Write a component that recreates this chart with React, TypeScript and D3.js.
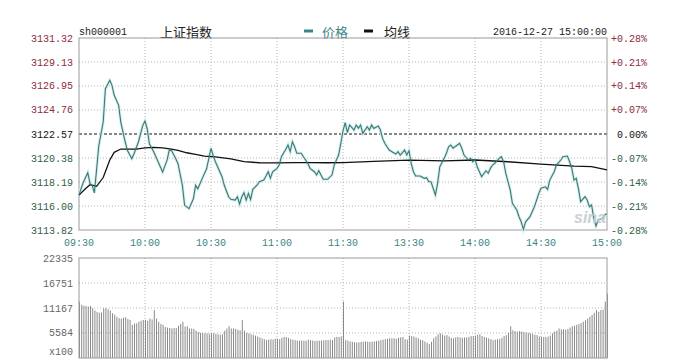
import { scaleLinear, line } from "d3";

const width = 680;
const height = 359;

// minute of session (0 = 09:30, 120 = 11:30/13:00, 240 = 15:00)
const timeLabels = ["09:30", "10:00", "10:30", "11:00", "11:30", "13:30", "14:00", "14:30", "15:00"];
const priceTicks = [3131.32, 3129.13, 3126.95, 3124.76, 3122.57, 3120.38, 3118.19, 3116.0, 3113.82];
const pctTicks = ["+0.28%", "+0.21%", "+0.14%", "+0.07%", "0.00%", "-0.07%", "-0.14%", "-0.21%", "-0.28%"];
const volTicks = [22335, 16751, 11167, 5584];
const prevClose = 3122.57;

const priceMinutes = [
  0, 2, 4, 5, 6, 7, 9, 11, 12, 14, 15, 16, 18, 19, 21, 22, 24, 25, 27, 29, 30, 31, 32, 34, 36, 38, 40, 41, 42,
  44, 45, 47, 48, 50, 52, 53, 54, 56, 58, 60, 61, 62, 63, 65, 66, 68, 69, 71, 72, 73, 74, 75, 76, 77, 78, 79,
  81, 82, 84, 85, 86, 87, 88, 90, 91, 92, 94, 95, 96, 97, 98, 99, 101, 102, 104, 105, 107, 108, 109, 110, 111,
  113, 115, 116, 118, 119, 120, 121, 122, 123, 124, 125, 126, 127, 128, 129, 131, 132, 133, 134, 136, 137, 138,
  139, 141, 143, 144, 145, 146, 148, 149, 150, 151, 152, 153, 155, 157, 158, 159, 160, 162, 163, 164, 166, 167,
  168, 169, 170, 172, 173, 174, 175, 177, 178, 179, 180, 181, 182, 183, 185, 186, 187, 188, 189, 191, 192, 193,
  194, 196, 197, 199, 200, 201, 202, 203, 205, 206, 207, 208, 209, 210, 212, 213, 214, 216, 217, 219, 220, 222,
  223, 224, 225, 226, 227, 228, 230, 231, 232, 233, 234, 235, 236, 238, 239, 240,
];
const priceValues = [
  3117.04, 3118.19, 3119.04, 3118.04, 3117.89, 3117.2, 3121.5, 3123.66, 3126.7, 3127.46, 3127.0, 3126.1, 3125.2,
  3123.66, 3121.84, 3121.08, 3120.32, 3120.77, 3121.84, 3123.36, 3123.75, 3123.05, 3121.68, 3120.93, 3120.02,
  3119.1, 3120.17, 3121.08, 3121.08, 3120.32, 3119.86, 3117.89, 3116.07, 3115.76, 3116.67, 3117.89, 3117.58,
  3118.5, 3119.4, 3121.27, 3120.6, 3120.04, 3119.59, 3118.68, 3117.92, 3116.85, 3116.62, 3116.55, 3116.85,
  3116.19, 3116.85, 3117.22, 3116.55, 3117.16, 3116.6, 3117.53, 3117.92, 3118.22, 3118.37, 3118.74, 3119.13,
  3118.53, 3119.13, 3119.44, 3119.74, 3120.5, 3121.17, 3121.57, 3120.96, 3121.87, 3121.41, 3120.81, 3120.81,
  3120.5, 3119.9, 3119.44, 3119.13, 3118.83, 3119.22, 3118.83, 3118.44, 3118.44, 3118.83, 3119.74, 3120.65,
  3121.72, 3122.85, 3123.6, 3122.7, 3123.39, 3123.18, 3122.93, 3123.39, 3123.1, 3123.39, 3122.63, 3123.23,
  3122.93, 3123.39, 3123.08, 3123.3, 3122.93, 3122.17, 3121.72, 3121.11, 3120.86, 3120.74, 3120.96, 3120.65,
  3121.11, 3120.65, 3121.05, 3119.9, 3119.13, 3118.74, 3118.74, 3118.53, 3118.59, 3118.22, 3118.22, 3117.01,
  3118.07, 3119.59, 3120.35, 3120.81, 3121.41, 3121.57, 3121.27, 3121.57, 3121.72, 3121.27, 3120.65, 3120.2,
  3120.35, 3120.04, 3120.26, 3119.59, 3119.13, 3118.68, 3119.22, 3118.99, 3119.44, 3119.74, 3119.9, 3120.35,
  3120.5, 3120.04, 3118.99, 3117.47, 3116.25, 3115.64, 3115.03, 3114.57, 3113.88, 3114.57, 3115.03, 3115.49,
  3115.94, 3116.55, 3117.16, 3117.62, 3117.76, 3117.53, 3118.37, 3119.13, 3119.74, 3120.2, 3120.5, 3120.56,
  3120.04, 3119.44, 3118.37, 3118.53, 3117.62, 3116.4, 3116.85, 3116.55, 3115.94, 3116.1, 3114.88, 3114.18,
  3114.73, 3114.88, 3115.19, 3115.3,
];

const avgMinutes = [
  0, 3, 5, 8, 11, 14, 16, 19, 22, 26, 30, 34, 38, 42, 45, 49, 53, 57, 62, 69, 75, 82, 90, 98, 105, 113, 120, 134,
  150, 166, 180, 195, 210, 225, 233, 240,
];
const avgValues = [
  3117.0, 3117.6, 3117.95, 3117.8, 3118.6, 3120.2, 3120.9, 3121.2, 3121.2, 3121.2, 3121.3, 3121.35, 3121.3,
  3121.2, 3121.08, 3120.86, 3120.72, 3120.56, 3120.48, 3120.3, 3120.05, 3119.95, 3119.93, 3119.97, 3119.96,
  3119.95, 3119.97, 3120.08, 3120.18, 3120.12, 3120.2, 3120.04, 3119.83, 3119.65, 3119.59, 3119.3,
];

// volume per minute (x100 shares), minutes 0..240
const volumes = [
  12600, 11900, 11700, 11600, 11500, 11600, 11100, 10600, 10300, 10100,
  10200, 11100, 11100, 10900, 10600, 10000, 9700, 9200, 8900, 8800,
  9000, 9100, 8700, 8500, 7400, 7700, 7750, 8100, 8300, 8500,
  8500, 8300, 8800, 8600, 10700, 8800, 8100, 7600, 7400, 6900,
  6800, 6700, 6600, 6700, 6700, 7200, 7600, 8100, 7000, 7100,
  6600, 6600, 6500, 6100, 5800, 5600, 5600, 5500, 5500, 5400,
  5500, 5500, 5400, 5300, 5200, 5300, 6100, 6600, 7100, 6600,
  6600, 6500, 6300, 6200, 8500, 6100, 5600, 5500, 5300, 5200,
  5000, 4800, 4600, 4400, 4200, 4000, 4100, 4200, 4100, 4300,
  4300, 4200, 4500, 4700, 4700, 4500, 4200, 4100, 4000, 3900,
  3870, 3900, 3870, 3870, 4100, 4000, 3900, 3800, 3900, 3870,
  3900, 3950, 4000, 4000, 4100, 4000, 4600, 4700, 4700, 4800,
  12600, 4000, 3900, 3700, 3600, 3500, 3450, 3500, 3600, 3650,
  3700, 3650, 3600, 3650, 3700, 3800, 3900, 4000, 4100, 4200,
  4300, 4400, 4400, 4400, 4300, 4500, 4600, 4700, 4200, 4100,
  5000, 4900, 4800, 4600, 4400, 4100, 4000, 3700, 3400, 3100,
  3600, 4400, 4800, 5300, 5500, 5200, 5000, 5100, 4800, 4500,
  4400, 4600, 4700, 4600, 4500, 4600, 4600, 4700, 4900, 4900,
  5000, 5200, 5300, 4900, 4700, 4600, 4400, 4200, 4000, 4100,
  4200, 4200, 4500, 4900, 5100, 5600, 7100, 6200, 6000, 5900,
  6000, 5900, 5800, 5700, 5600, 5500, 5400, 5200, 5100, 4800,
  4700, 4700, 4700, 4800, 5000, 5500, 5900, 6100, 6600, 6400,
  6400, 6300, 6500, 6800, 7100, 7200, 7400, 7600, 7800, 8100,
  8400, 8800, 9200, 9600, 10100, 10700, 10300, 10700, 10800, 12600,
  14400,
];

const mono = '"Liberation Mono", "DejaVu Sans Mono", monospace';
const cjk = '"Noto Sans CJK SC", sans-serif';
const upColor = "#8c2c3c";
const downColor = "#2f6244";
const teal = "#3a8585";
const gridColor = "#b4b4b4";
const frameColor = "#9a9a9a";

const plot = { left: 79, right: 607, top: 38, bottom: 230 };
const vol = { top: 258, bottom: 358 };

export default function App() {
  const x = scaleLinear().domain([0, 240]).range([plot.left, plot.right]);
  const y = scaleLinear()
    .domain([priceTicks[priceTicks.length - 1], priceTicks[0]])
    .range([plot.bottom, plot.top]);
  const yVol = scaleLinear().domain([0, volTicks[0]]).range([vol.bottom, vol.top]);

  const priceLine = line<number>()
    .x((_, i) => x(priceMinutes[i]))
    .y((d) => y(d));
  const avgLine = line<number>()
    .x((_, i) => x(avgMinutes[i]))
    .y((d) => y(d));

  const timeTicks = timeLabels.map((_, i) => i * 30);

  return (
    <svg
      width={width}
      height={height}
      style={{ position: "absolute", left: 0, top: 0, background: "#fff" }}
      fontFamily={mono}
    >
      {/* header */}
      <text x={79} y={35} fontSize={10} fill="#222">sh000001</text>
      <text x={160} y={37} fontSize={13} fontFamily={cjk} fill="#222">上证指数</text>
      <line x1={304} x2={313} y1={31} y2={31} stroke={teal} strokeWidth={3} />
      <text x={322} y={37} fontSize={13} fontFamily={cjk} fill={teal}>价格</text>
      <line x1={364} x2={373} y1={31} y2={31} stroke="#111" strokeWidth={3} />
      <text x={384} y={37} fontSize={13} fontFamily={cjk} fill="#222">均线</text>
      <text x={607} y={35} fontSize={10} textAnchor="end" fill="#222">2016-12-27 15:00:00</text>

      {/* price panel grid */}
      {priceTicks.map((t, i) =>
        t === prevClose || i === 0 || i === priceTicks.length - 1 ? null : (
          <line key={t} x1={plot.left} x2={plot.right} y1={y(t)} y2={y(t)} stroke={gridColor} strokeDasharray="1,2" />
        ),
      )}
      {timeTicks.slice(1, -1).map((m) => (
        <line key={m} x1={x(m)} x2={x(m)} y1={plot.top} y2={plot.bottom} stroke={gridColor} strokeDasharray="1,2" />
      ))}
      <line x1={plot.left} x2={plot.right} y1={y(prevClose)} y2={y(prevClose)} stroke="#111" strokeDasharray="3,2" />
      <rect
        x={plot.left}
        y={plot.top}
        width={plot.right - plot.left}
        height={plot.bottom - plot.top}
        fill="none"
        stroke={frameColor}
      />

      {/* price axis labels */}
      {priceTicks.map((t, i) => (
        <g key={t}>
          <text
            x={73}
            y={y(t)}
            dy="0.35em"
            fontSize={10}
            textAnchor="end"
            fill={t > prevClose ? upColor : t < prevClose ? downColor : "#111"}
          >
            {t.toFixed(2)}
          </text>
          <text
            x={647}
            y={y(t)}
            dy="0.35em"
            fontSize={10}
            textAnchor="end"
            fill={t > prevClose ? upColor : t < prevClose ? downColor : "#111"}
          >
            {pctTicks[i]}
          </text>
        </g>
      ))}

      {/* lines */}
      <path d={priceLine(priceValues) ?? ""} fill="none" stroke="#d4eeee" strokeWidth={3} />
      <path d={avgLine(avgValues) ?? ""} fill="none" stroke="#111" strokeWidth={1.3} />
      <path d={priceLine(priceValues) ?? ""} fill="none" stroke="#3d7873" strokeWidth={1.1} />

      {/* watermark */}
      <text x={574} y={223} fontSize={16} fontStyle="italic" fontWeight={700} fontFamily="Verdana, sans-serif" fill="#c9c9cf" opacity={0.9}>
        sina
      </text>

      {/* time labels */}
      {timeLabels.map((l, i) => (
        <text key={l} x={x(timeTicks[i])} y={246} fontSize={10} textAnchor="middle" fill={teal}>
          {l}
        </text>
      ))}

      {/* volume panel */}
      {volTicks.slice(1).map((t) => (
        <line key={t} x1={plot.left} x2={plot.right} y1={yVol(t)} y2={yVol(t)} stroke={gridColor} strokeDasharray="1,2" />
      ))}
      {timeTicks.slice(1, -1).map((m) => (
        <line key={m} x1={x(m)} x2={x(m)} y1={vol.top} y2={vol.bottom} stroke={gridColor} strokeDasharray="1,2" />
      ))}
      {volumes.map((v, i) => (
        <line
          key={i}
          x1={x(i) + 0.5}
          x2={x(i) + 0.5}
          y1={yVol(v)}
          y2={vol.bottom}
          stroke="#8a8a8a"
          strokeWidth={1}
        />
      ))}
      <rect
        x={plot.left}
        y={vol.top}
        width={plot.right - plot.left}
        height={vol.bottom - vol.top}
        fill="none"
        stroke={frameColor}
      />
      {volTicks.map((t) => (
        <text key={t} x={73} y={yVol(t)} dy="0.35em" fontSize={10} textAnchor="end" fill="#666">
          {t}
        </text>
      ))}
      <text x={73} y={355} fontSize={10} textAnchor="end" fill="#666">
        x100
      </text>
    </svg>
  );
}
